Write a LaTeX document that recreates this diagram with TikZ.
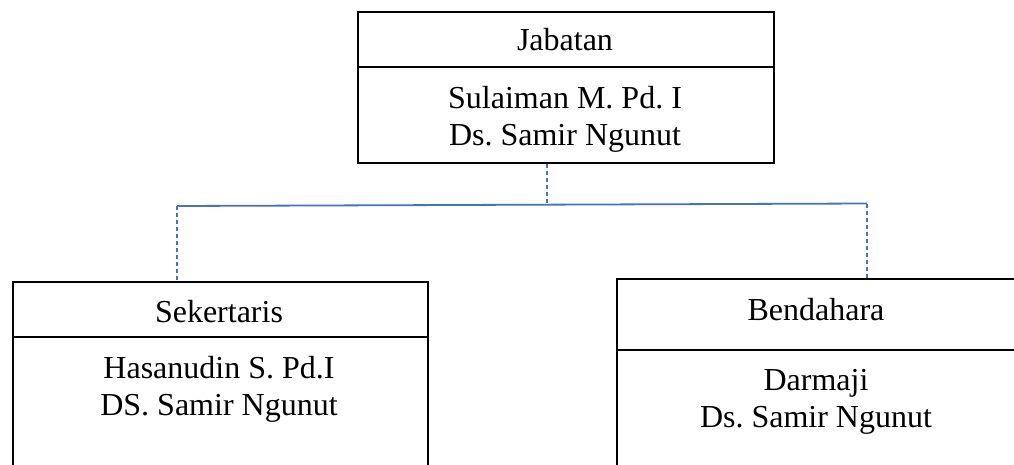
\documentclass[tikz,border=0pt]{standalone}
\usepackage{fontspec}
\setmainfont{Liberation Serif}
\definecolor{linkblue}{HTML}{4472C4}
\begin{document}
\begin{tikzpicture}[x=1pt,y=-1pt,
  box/.style={draw=black,line width=2pt,rectangle,anchor=north west,inner sep=0pt},
  rule/.style={line width=2pt},
  lbl/.style={font=\fontsize{32}{37}\selectfont\frenchspacing,align=center,inner sep=0pt,anchor=base},
  link/.style={draw=linkblue,line width=1.8pt},
  dlink/.style={link,line width=1.5pt,dash pattern=on 4pt off 3pt}]
\useasboundingbox (0,0) rectangle (1014,464);
\clip (0,0) rectangle (1014,464);
% top box
\node[box,minimum width=416pt,minimum height=151pt] (jab) at (357,11) {};
\draw[rule] (357,67) -- (773,67);
\node[lbl] (jabt) at (565,50) {Jabatan};
\node[lbl] (jabn) at (565,145) {Sulaiman M. Pd. I\\Ds. Samir Ngunut};
% left box
\node[box,minimum width=415pt,minimum height=220pt] (sek) at (12,281) {};
\draw[rule] (12,337) -- (427,337);
\node[lbl] (sekt) at (219,322) {Sekertaris};
\node[lbl] (sekn) at (219,415) {Hasanudin S. Pd.I\\DS. Samir Ngunut};
% right box
\node[box,minimum width=401pt,minimum height=220pt] (ben) at (616,278) {};
\draw[rule] (616,350) -- (1017,350);
\node[lbl] (bent) at (816,320) {Bendahara};
\node[lbl] (benn) at (816,427) {Darmaji\\Ds. Samir Ngunut};
% connectors
\coordinate (hl) at (177,206);
\coordinate (hm) at (547,204.6);
\coordinate (hr) at (867,203.5);
\draw[link] (hl) -- (hr);
\draw[dlink] (jab.south -| hm) -- (hm);
\draw[dlink] (hl) -- (hl |- sek.north);
\draw[dlink] (hr) -- (hr |- ben.north);
\end{tikzpicture}
\end{document}
